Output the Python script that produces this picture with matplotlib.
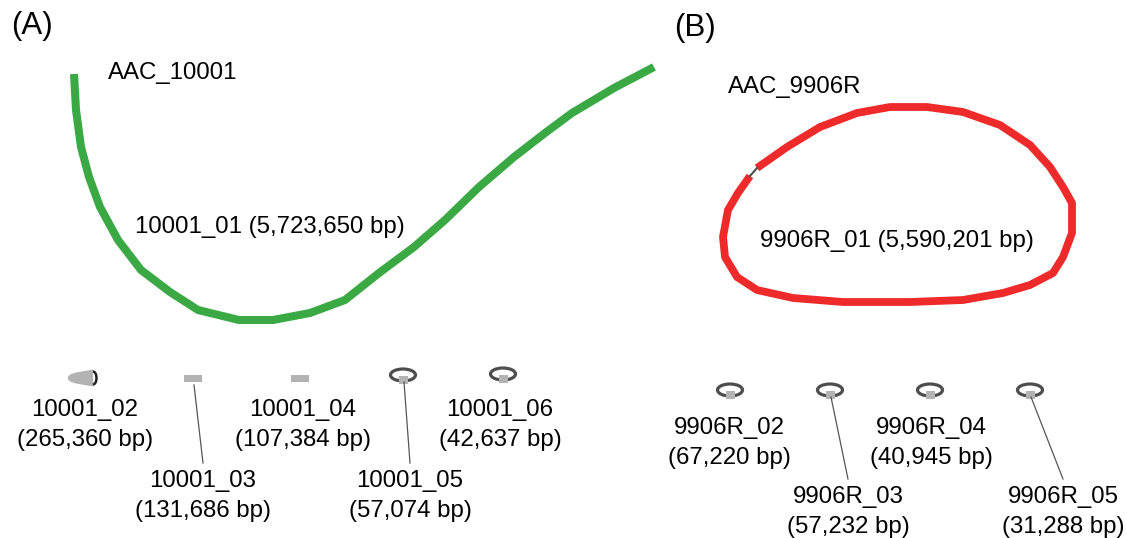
import matplotlib
matplotlib.use("Agg")
import matplotlib.pyplot as plt
from matplotlib.patches import Ellipse, Rectangle, Polygon, Arc

plt.rcParams["font.family"] = ["Liberation Sans", "DejaVu Sans"]

# ---- contig data -------------------------------------------------------
panel_labels = ["(A)", "(B)"]
assembly_names = ["AAC_10001", "AAC_9906R"]

main_names = ["10001_01", "9906R_01"]
main_lengths = [5723650, 5590201]

small_names_a = ["10001_02", "10001_03", "10001_04", "10001_05", "10001_06"]
small_lengths_a = [265360, 131686, 107384, 57074, 42637]
small_kinds_a = ["blob", "bar", "bar", "loop", "loop"]

small_names_b = ["9906R_02", "9906R_03", "9906R_04", "9906R_05"]
small_lengths_b = [67220, 57232, 40945, 31288]
small_kinds_b = ["loop", "loop", "loop", "loop"]

# ---- layout (pixel units) ----------------------------------------------
green_x = [74, 76, 81, 89, 100, 118, 141, 170, 198, 239, 273, 310, 345, 379,
           414, 445, 479, 514, 545, 572, 614, 654]
green_y = [74, 110, 147, 177, 207, 240, 270, 292, 310, 320, 320, 313, 300, 273,
           247, 220, 187, 157, 133, 113, 88, 67]

red_x = [757, 787, 820, 857, 890, 927, 963, 1000, 1030, 1050, 1063, 1072, 1072,
         1063, 1053, 1030, 1003, 963, 910, 843, 793, 757, 737, 725, 723, 728,
         738, 750]
red_y = [168, 147, 127, 113, 107, 107, 112, 125, 145, 167, 187, 203, 233,
         257, 273, 285, 293, 300, 302, 302, 298, 290, 277, 257, 237, 210,
         193, 176]

glyph_x_a = [82, 193, 300, 403, 503]
glyph_y_a = [378, 378, 378, 375, 374]
label_x_a = [85, 203, 303, 410, 500]
label_row_a = [0, 1, 0, 1, 0]

glyph_x_b = [730, 830, 930, 1030]
glyph_y_b = [390, 390, 390, 390]
label_x_b = [729, 848, 931, 1063]
label_row_b = [0, 1, 0, 1]

GREEN = "#3aa944"
RED = "#ee2a2a"
GREY = "#b3b3b3"
DARK = "#4d4d4d"
FS = 17.3

fig = plt.figure(figsize=(11.27, 5.38), dpi=100)
ax = fig.add_axes([0, 0, 1, 1])
ax.set_xlim(0, 1127)
ax.set_ylim(538, 0)
ax.axis("off")

# panel letters and assembly names
ax.text(32, 26, panel_labels[0], fontsize=22.5, ha="center", va="center")
ax.text(695, 28, panel_labels[1], fontsize=22.5, ha="center", va="center")
ax.text(108, 73, assembly_names[0], fontsize=FS, ha="left", va="center")
ax.text(728, 87, assembly_names[1], fontsize=FS, ha="left", va="center")

# large linear contig
ax.plot(green_x, green_y, color=GREEN, lw=5.8, solid_capstyle="butt",
        solid_joinstyle="round")
ax.text(135, 227, f"{main_names[0]} ({main_lengths[0]:,} bp)", fontsize=FS,
        ha="left", va="center")

# large circular contig with its self-link
ax.plot(red_x, red_y, color=RED, lw=5.6, solid_capstyle="butt",
        solid_joinstyle="round")
ax.plot([750, 757], [176, 168], color=DARK, lw=1.5)
ax.text(897, 241, f"{main_names[1]} ({main_lengths[1]:,} bp)", fontsize=FS,
        ha="center", va="center")


def draw_glyph(kind, x, y):
    if kind == "loop":
        ax.add_patch(Ellipse((x, y), 25, 12, fill=False, ec=DARK, lw=2.3))
        ax.add_patch(Rectangle((x - 4.5, y + 0.5), 9, 8, color=GREY, lw=0))
    elif kind == "bar":
        ax.add_patch(Rectangle((x - 9, y - 3.5), 18, 7, color=GREY, lw=0))
    elif kind == "blob":
        pts = [(x + 11, y - 8.5), (x - 6, y - 5.5), (x - 11, y - 4),
               (x - 14, y - 1.5), (x - 14, y + 1.5), (x - 11, y + 4),
               (x - 6, y + 5.5), (x + 11, y + 8.5)]
        ax.add_patch(Polygon(pts, closed=True, color=GREY, lw=0))
        ax.add_patch(Arc((x + 11, y), 7, 13, theta1=-90, theta2=90,
                         color="#222222", lw=1.8))


def draw_small(names, lengths, kinds, gx, gy, lx, rows, row_y):
    for name, length, kind, x, y, tx, row in zip(names, lengths, kinds, gx, gy,
                                                   lx, rows):
        draw_glyph(kind, x, y)
        ty = row_y[row]
        if row == 1:
            ax.plot([x + 1, tx], [y + 7, ty - 18], color="#555555", lw=0.9)
        ax.text(tx, ty, name, fontsize=FS, ha="center", va="center")
        ax.text(tx, ty + 30, f"({length:,} bp)", fontsize=FS, ha="center",
                va="center")


draw_small(small_names_a, small_lengths_a, small_kinds_a, glyph_x_a, glyph_y_a,
           label_x_a, label_row_a, [410, 481])
draw_small(small_names_b, small_lengths_b, small_kinds_b, glyph_x_b, glyph_y_b,
           label_x_b, label_row_b, [428, 497])

fig.savefig("out.png", dpi=100, facecolor="white")
